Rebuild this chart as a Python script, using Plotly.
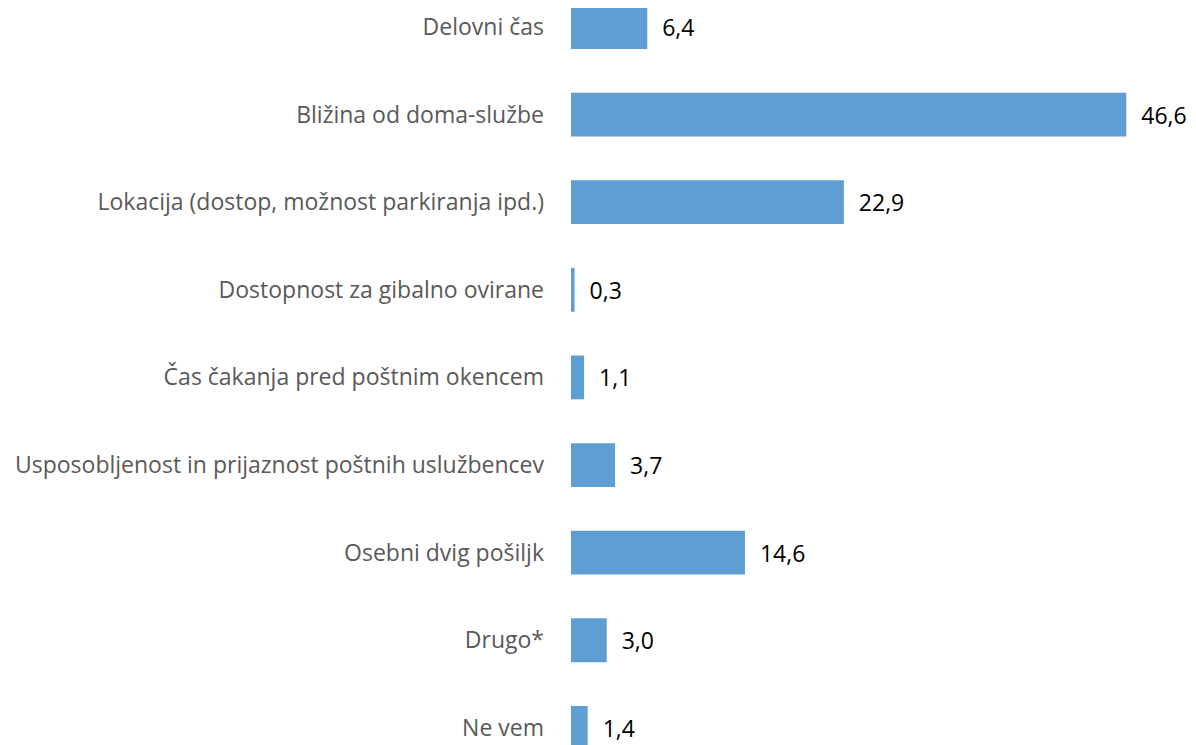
import plotly.graph_objects as go

categories = [
    "Delovni čas",
    "Bližina od doma-službe",
    "Lokacija (dostop, možnost parkiranja ipd.)",
    "Dostopnost za gibalno ovirane",
    "Čas čakanja pred poštnim okencem",
    "Usposobljenost in prijaznost poštnih uslužbencev",
    "Osebni dvig pošiljk",
    "Drugo*",
    "Ne vem",
]
values = [6.4, 46.6, 22.9, 0.3, 1.1, 3.7, 14.6, 3.0, 1.4]

FONT = "Open Sans, Lato, sans-serif"

fig = go.Figure(
    go.Bar(
        x=values,
        y=categories,
        orientation="h",
        width=0.5,
        marker=dict(color="#5F9ED3", line=dict(width=0)),
        texttemplate="  %{x:.1f}",
        textposition="outside",
        textfont=dict(family=FONT, size=23, color="#000000"),
        cliponaxis=False,
    )
)

fig.update_layout(
    width=1188,
    height=745,
    margin=dict(l=563, r=0, t=0, b=0),
    plot_bgcolor="white",
    paper_bgcolor="white",
    separators=",.",
    showlegend=False,
    xaxis=dict(range=[0, 52.45], visible=False, showgrid=False, zeroline=False),
    yaxis=dict(
        range=[8.287, -0.217],
        showgrid=False,
        zeroline=False,
        showline=False,
        ticks="",
        ticklabelstandoff=26,
        tickfont=dict(family=FONT, size=23, color="#595959"),
    ),
)

fig.write_html("out.html")
